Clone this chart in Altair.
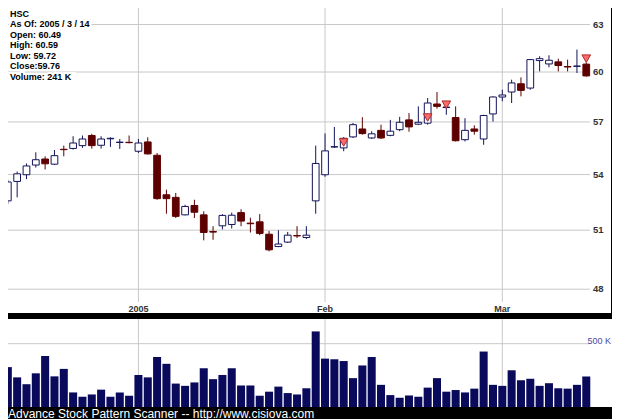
import altair as alt
import pandas as pd

# ---------------- data ----------------
opens = [52.56, 53.62, 53.99, 54.53, 54.87, 54.58, 55.42, 55.47, 55.63, 56.21,
         55.65, 56.02, 55.81, 55.82, 55.31, 55.84, 55.08, 52.89, 52.75, 51.81,
         52.31, 51.81, 50.93, 51.23, 51.30, 51.93, 51.37, 51.44, 50.79, 50.15,
         50.38, 50.72, 50.62, 52.56, 53.99, 55.55, 55.50, 56.13, 56.59, 56.07,
         56.51, 56.22, 56.55, 57.12, 56.87, 56.93, 58.06, 57.85, 57.26, 55.97,
         56.59, 56.01, 57.47, 58.48, 58.78, 59.28, 59.02, 60.71, 60.50, 60.63,
         60.34, 60.35, 60.49]
highs = [53.71, 54.17, 54.62, 55.25, 55.02, 55.38, 55.63, 56.17, 56.21, 56.31,
         56.17, 56.11, 56.01, 56.21, 56.01, 56.11, 55.21, 53.17, 52.99, 52.35,
         52.62, 52.00, 51.21, 51.85, 51.93, 52.11, 51.66, 51.85, 50.96, 51.00,
         50.91, 51.21, 51.21, 55.63, 56.33, 56.71, 56.12, 56.94, 57.28, 56.46,
         56.84, 57.12, 57.30, 57.52, 57.92, 58.42, 58.78, 58.12, 57.92, 57.22,
         56.80, 57.42, 58.52, 58.92, 59.53, 59.67, 60.80, 60.98, 61.04, 60.83,
         60.77, 61.40, 60.59]
lows = [52.39, 52.75, 53.75, 54.39, 54.28, 54.53, 55.02, 55.40, 55.50, 55.46,
        55.46, 55.56, 55.44, 55.76, 55.21, 55.12, 52.62, 51.87, 51.64, 51.78,
        51.64, 50.47, 50.50, 51.04, 51.09, 51.21, 50.88, 50.74, 49.90, 50.12,
        50.33, 50.59, 50.54, 51.87, 53.88, 55.50, 55.31, 56.07, 56.26, 56.01,
        56.01, 56.17, 56.46, 56.43, 56.82, 56.84, 57.78, 57.42, 55.87, 55.87,
        56.26, 55.68, 57.02, 58.22, 58.12, 58.52, 58.92, 60.04, 60.29, 60.04,
        60.04, 59.94, 59.72]
closes = [53.59, 54.04, 54.48, 54.83, 54.60, 55.06, 55.40, 55.78, 56.01, 55.63,
          56.01, 56.05, 55.83, 55.80, 55.78, 55.16, 52.68, 52.68, 51.73, 52.26,
          51.95, 50.88, 50.90, 51.78, 51.79, 51.48, 51.34, 50.83, 49.98, 50.28,
          50.74, 50.70, 50.74, 54.62, 55.33, 55.57, 56.05, 56.84, 56.32, 56.31,
          56.07, 56.46, 56.98, 56.71, 56.98, 58.12, 57.92, 57.88, 55.91, 56.51,
          56.46, 57.38, 58.48, 58.60, 59.33, 58.88, 60.77, 60.83, 60.73, 60.40,
          60.31, 60.37, 59.76]
volumes_k = [315, 234, 180, 266, 403, 242, 301, 115, 81, 99,
             137, 81, 115, 89, 253, 234, 395, 341, 185, 167,
             194, 306, 220, 253, 306, 170, 170, 89, 121, 161,
             110, 99, 148, 597, 382, 377, 363, 228, 328, 395,
             175, 94, 73, 91, 81, 153, 228, 121, 134, 115,
             145, 438, 175, 167, 290, 212, 223, 167, 188, 148,
             145, 175, 241]

price_ticks = [48, 51, 54, 57, 60, 63]
month_idx = [14, 34, 53]
month_labels = ["2005", "Feb", "Mar"]
signal_idx = [36, 45, 47, 62]
signal_price = [55.81, 57.26, 58.02, 60.83]
vol_ticks_k = [500]
symbol = "HSC"
as_of = "2005 / 3 / 14"
footer = "Advance Stock Pattern Scanner -- http://www.cisiova.com"

# ---------------- styling ----------------
FONT = "Liberation Sans"
UP = "#14145a"
DOWN = "#5e0000"
GRID = "#c8c8c8"
VOLC = "#0a0a5c"
TOP_W, TOP_H = 603, 305
VOL_W, VOL_H = 604, 88
STEP = 9.33
X0 = 0.02

n = len(opens)
df = pd.DataFrame({
    "i": list(range(n)), "open": opens, "high": highs, "low": lows,
    "close": closes, "vol": [v * 1000 for v in volumes_k],
})
df["dir"] = ["up" if c >= o else "down" for o, c in zip(opens, closes)]

x_top = alt.Scale(domain=[X0, X0 + TOP_W / STEP], nice=False, zero=False)
x_vol = alt.Scale(domain=[X0, X0 + VOL_W / STEP], nice=False, zero=False)
y_price = alt.Scale(type="log", domain=[46.84, 64.08], nice=False, zero=False)
y_vol = alt.Scale(domain=[0, 695000], nice=False)

stroke_dir = alt.Stroke("dir:N", scale=alt.Scale(domain=["up", "down"], range=[UP, DOWN]), legend=None)
fill_dir = alt.Fill("dir:N", scale=alt.Scale(domain=["up", "down"], range=["white", DOWN]), legend=None)

base = alt.Chart(df)

grid_df = pd.DataFrame({"p": price_ticks, "lab": [str(p) for p in price_ticks]})
month_df = pd.DataFrame({"i": month_idx, "label": month_labels})

ygrid = alt.Chart(grid_df).mark_rule(color=GRID, strokeWidth=1, clip=True).encode(
    y=alt.Y("p:Q", scale=y_price, axis=None), x=alt.value(0), x2=alt.value(582))
xgrid = alt.Chart(month_df).mark_rule(color=GRID, strokeWidth=1, clip=True).encode(
    x=alt.X("i:Q", scale=x_top, axis=None), y=alt.value(0), y2=alt.value(294))
ylabels = alt.Chart(grid_df).mark_text(align="left", baseline="middle", font=FONT,
                                       fontSize=9.5, fontWeight="bold", color="#333333").encode(
    y=alt.Y("p:Q", scale=y_price, axis=None), x=alt.value(585), text="lab:N")
mlabels = alt.Chart(month_df).mark_text(align="center", baseline="middle", font=FONT,
                                        fontSize=9, fontWeight="bold", color="#333333").encode(
    x=alt.X("i:Q", scale=x_top, axis=None), y=alt.value(301), text="label:N")

wicks = base.mark_rule(strokeWidth=1, clip=True).encode(
    x=alt.X("i:Q", scale=x_top, axis=None),
    y=alt.Y("low:Q", scale=y_price, axis=None), y2="high:Q", color=alt.Color(
        "dir:N", scale=alt.Scale(domain=["up", "down"], range=[UP, DOWN]), legend=None))
bodies = base.transform_calculate(xa="datum.i - 0.36", xb="datum.i + 0.36").mark_rect(
    strokeWidth=1, clip=True).encode(
    x=alt.X("xa:Q", scale=x_top, axis=None), x2="xb:Q",
    y=alt.Y("open:Q", scale=y_price, axis=None), y2="close:Q",
    fill=fill_dir, stroke=stroke_dir)

sig_df = pd.DataFrame({"i": signal_idx, "p": signal_price})
signals = alt.Chart(sig_df).mark_point(shape="triangle-down", filled=True, fill="#ff6b6b",
                                       stroke="#b02a2a", strokeWidth=1, size=75, opacity=1,
                                       clip=True).encode(
    x=alt.X("i:Q", scale=x_top, axis=None), y=alt.Y("p:Q", scale=y_price, axis=None))

info_lines = [symbol, f"As Of: {as_of}", f"Open: {opens[-1]:.2f}", f"High: {highs[-1]:.2f}",
              f"Low: {lows[-1]:.2f}", f"Close:{closes[-1]:.2f}", f"Volume: {volumes_k[-1]} K"]
one = pd.DataFrame({"a": [0]})
info_halo = alt.Chart(one).mark_text(text=info_lines, align="left", baseline="top", font=FONT,
                                     fontSize=9, fontWeight="bold", lineHeight=10.5,
                                     fill="white", stroke="white", strokeWidth=4, clip=True).encode(
    x=alt.value(2), y=alt.value(1.5))
info = alt.Chart(one).mark_text(text=info_lines, align="left", baseline="top", font=FONT,
                                fontSize=9, fontWeight="bold", lineHeight=10.5,
                                color="#000000", clip=True).encode(x=alt.value(2), y=alt.value(1.5))

top = alt.layer(ygrid, xgrid, wicks, bodies, signals, info_halo, info, ylabels, mlabels).properties(
    width=TOP_W, height=TOP_H)

# ---------------- volume panel ----------------
vgrid = alt.Chart(month_df).mark_rule(color=GRID, strokeWidth=1, clip=True).encode(
    x=alt.X("i:Q", scale=x_vol, axis=None), y=alt.value(0), y2=alt.value(VOL_H))
vt_df = pd.DataFrame({"v": [v * 1000 for v in vol_ticks_k], "lab": [f"{v} K" for v in vol_ticks_k]})
hgrid = alt.Chart(vt_df).mark_rule(color=GRID, strokeWidth=1, clip=True).encode(
    y=alt.Y("v:Q", scale=y_vol, axis=None), x=alt.value(0), x2=alt.value(582))
vlabel = alt.Chart(vt_df).mark_text(align="right", baseline="middle", dy=-3, font=FONT,
                                    fontSize=9, color="#4a4aa0").encode(
    y=alt.Y("v:Q", scale=y_vol, axis=None), x=alt.value(603), text="lab:N")
vbars = base.transform_calculate(xa="datum.i - 0.43", xb="datum.i + 0.43", zero="0").mark_rect(
    color=VOLC, clip=True).encode(
    x=alt.X("xa:Q", scale=x_vol, axis=None), x2="xb:Q",
    y=alt.Y("vol:Q", scale=y_vol, axis=None), y2="zero:Q")
foot = alt.Chart(one).mark_text(text=footer, align="left", baseline="middle", font=FONT,
                                fontSize=12, color="white").encode(
    x=alt.value(0), y=alt.value(94.5))

vol = alt.layer(vgrid, hgrid, vbars, vlabel, foot).properties(width=VOL_W, height=VOL_H)

chart = alt.vconcat(top, vol, spacing=6, bounds="flush").configure_view(
    fill="white", strokeWidth=0).properties(
    background="black", padding={"left": 0, "top": 0, "right": 0, "bottom": 3})

chart.save("out.html", embed_options={"renderer": "svg", "actions": False})
